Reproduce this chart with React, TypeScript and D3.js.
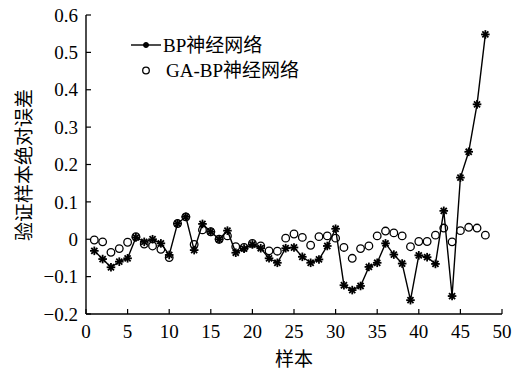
import React from 'react';
import * as d3 from 'd3';

// sample index 1..48
const samples = d3.range(1, 49);

// BP network absolute error
const bpErrors = [
  -0.031, -0.053, -0.075, -0.06, -0.051, 0.005, -0.007, 0.0, -0.011, -0.042,
  0.042, 0.06, -0.029, 0.041, 0.02, 0.0, 0.023, -0.036, -0.025, -0.014,
  -0.024, -0.051, -0.063, -0.024, -0.022, -0.047, -0.063, -0.054, -0.018, 0.028,
  -0.123, -0.136, -0.125, -0.074, -0.063, -0.011, -0.041, -0.065, -0.163, -0.043,
  -0.048, -0.066, 0.076, -0.152, 0.165, 0.234, 0.361, 0.548,
];

// GA-BP network absolute error
const gaBpErrors = [
  -0.002, -0.007, -0.035, -0.025, -0.008, 0.007, -0.013, -0.018, -0.027, -0.049,
  0.042, 0.06, -0.014, 0.025, 0.02, 0.0, 0.009, -0.02, -0.022, -0.011,
  -0.018, -0.031, -0.032, 0.003, 0.014, 0.005, -0.016, 0.007, 0.009, 0.003,
  -0.022, -0.051, -0.025, -0.018, 0.009, 0.022, 0.017, 0.009, -0.02, -0.006,
  -0.006, 0.011, 0.03, -0.007, 0.023, 0.032, 0.03, 0.011,
];

const xTicks = [0, 5, 10, 15, 20, 25, 30, 35, 40, 45, 50];
const yTicks = [-0.2, -0.1, 0, 0.1, 0.2, 0.3, 0.4, 0.5, 0.6];
const legendLabels = ['BP神经网络', 'GA-BP神经网络'];
const xTitle = '样本';
const yTitle = '验证样本绝对误差';

const W = 519;
const H = 372;
const left = 86;
const right = 502;
const top = 15;
const bottom = 314;
const font = "'Times New Roman', 'Liberation Serif', 'Noto Sans CJK SC', serif";

const formatTick = (v: number) => (v === 0 ? '0' : d3.format('.1f')(v).replace('-', '\u2212'));

const Star = ({ x, y, r = 4.3 }: { x: number; y: number; r?: number }) => {
  const arms = d3.range(4).map((k) => (k * Math.PI) / 4);
  return (
    <g>
      {arms.map((a, k) => (
        <line
          key={k}
          x1={x - r * Math.cos(a)}
          y1={y - r * Math.sin(a)}
          x2={x + r * Math.cos(a)}
          y2={y + r * Math.sin(a)}
          stroke="#000"
          strokeWidth={1.8}
        />
      ))}
    </g>
  );
};

const App = () => {
  const x = d3.scaleLinear().domain([0, 50]).range([left, right]);
  const y = d3.scaleLinear().domain([-0.2, 0.6]).range([bottom, top]);

  const line = d3
    .line<number>()
    .x((_, i) => x(samples[i]))
    .y((d) => y(d));

  return (
    <div style={{ position: 'absolute', left: 0, top: 0 }}>
      <svg width={W} height={H} style={{ display: 'block', background: '#fff' }}>
        {/* axes */}
        <line x1={left} y1={top} x2={left} y2={bottom} stroke="#000" strokeWidth={1.4} />
        <line x1={left} y1={bottom} x2={right} y2={bottom} stroke="#000" strokeWidth={1.4} />
        {yTicks.map((t) => (
          <g key={t}>
            <line x1={left} x2={left + 5} y1={y(t)} y2={y(t)} stroke="#000" strokeWidth={1.2} />
            <text
              x={left - 8}
              y={y(t)}
              dy="0.35em"
              textAnchor="end"
              fontFamily={font}
              fontSize={19}
            >
              {formatTick(t)}
            </text>
          </g>
        ))}
        {xTicks.map((t) => (
          <g key={t}>
            <line x1={x(t)} x2={x(t)} y1={bottom} y2={bottom - 5} stroke="#000" strokeWidth={1.2} />
            <text x={x(t)} y={bottom + 24} textAnchor="middle" fontFamily={font} fontSize={19}>
              {t}
            </text>
          </g>
        ))}
        <text x={294} y={366} textAnchor="middle" fontFamily={font} fontSize={19}>
          {xTitle}
        </text>
        <text
          transform={`translate(31, 165) rotate(-90)`}
          textAnchor="middle"
          fontFamily={font}
          fontSize={19}
        >
          {yTitle}
        </text>

        {/* BP series */}
        <path d={line(bpErrors) || ''} fill="none" stroke="#000" strokeWidth={1.4} />
        {bpErrors.map((v, i) => (
          <Star key={i} x={x(samples[i])} y={y(v)} />
        ))}

        {/* GA-BP series */}
        {gaBpErrors.map((v, i) => (
          <circle key={i} cx={x(samples[i])} cy={y(v)} r={3.8} fill="none" stroke="#000" strokeWidth={1.3} />
        ))}

        {/* legend */}
        <line x1={131} x2={161} y1={45} y2={45} stroke="#000" strokeWidth={1.4} />
        <Star x={146} y={45} r={3} />
        <text x={163} y={45} dy="0.35em" fontFamily={font} fontSize={19}>
          {legendLabels[0]}
        </text>
        <circle cx={146} cy={70.5} r={3.3} fill="none" stroke="#000" strokeWidth={1.3} />
        <text x={166} y={70.5} dy="0.35em" fontFamily={font} fontSize={19}>
          {legendLabels[1]}
        </text>
      </svg>
    </div>
  );
};

export default App;
